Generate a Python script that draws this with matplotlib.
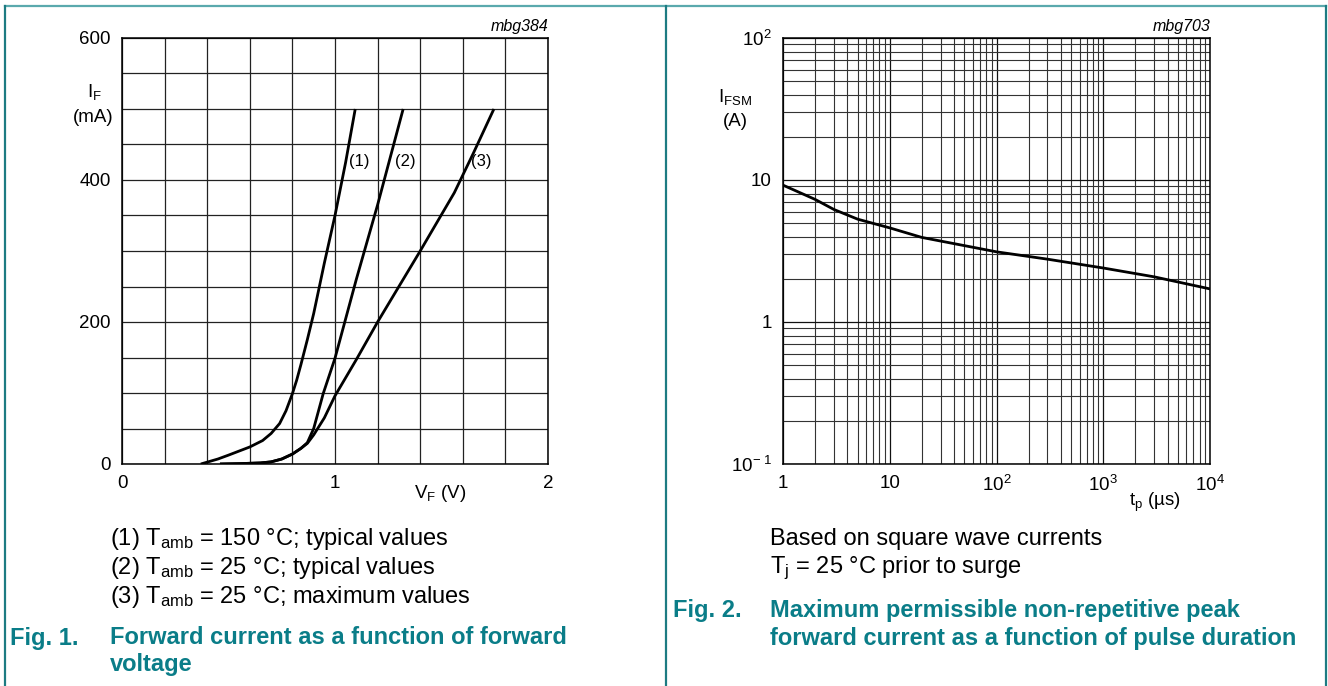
import numpy as np
import matplotlib
matplotlib.use("Agg")
from matplotlib import pyplot as plt
from matplotlib.ticker import FixedLocator, NullFormatter, LogLocator

plt.rcParams['font.family'] = ['Liberation Sans', 'DejaVu Sans']
plt.rcParams['mathtext.fontset'] = 'custom'
plt.rcParams['mathtext.rm'] = 'Liberation Sans'
plt.rcParams['mathtext.it'] = 'Liberation Sans:italic'

W, H = 1328, 686
TEAL = '#0a7d88'

# Fig. 1 data: forward voltage (V) vs forward current (mA)
vf_1 = [0.37, 0.45, 0.50, 0.60, 0.66, 0.70, 0.74, 0.77, 0.80, 0.82, 0.84, 0.87, 0.90, 0.95, 1.00, 1.05, 1.095]
if_1 = [0, 7, 12.5, 24, 33, 43, 57, 75, 99, 118, 140, 175, 212, 283, 350, 425, 500]
vf_2 = [0.46, 0.55, 0.65, 0.70, 0.75, 0.80, 0.84, 0.87, 0.90, 0.945, 1.00, 1.10, 1.20, 1.32]
if_2 = [0, 0.5, 1.5, 3, 7, 14, 22, 30, 50, 99.5, 149, 260, 365, 500]
vf_3 = [0.46, 0.55, 0.65, 0.70, 0.75, 0.80, 0.84, 0.87, 0.90, 0.95, 1.00, 1.10, 1.20, 1.40, 1.56, 1.65, 1.746]
if_3 = [0, 0.5, 1.5, 3, 7, 14, 22, 29, 41, 65, 96, 147, 200, 300, 382, 438, 500]
curve_labels = ['(1)', '(2)', '(3)']
label_x = [1.065, 1.28, 1.64]
label_y = 426

# Fig. 2 data: pulse duration (us) vs IFSM (A)
tp = [1, 2, 3, 5, 10, 20, 50, 100, 300, 1000, 3000, 10000]
ifsm = [9.2, 7.3, 6.2, 5.3, 4.6, 3.94, 3.45, 3.12, 2.77, 2.40, 2.08, 1.71]

fig = plt.figure(figsize=(W / 100, H / 100), dpi=100)


def px(x, y):
    return x / W, 1 - y / H


def ftext(x, y, s, **kw):
    fx, fy = px(x, y)
    fig.text(fx, fy, s, **kw)


def add_ax(x0, y0, x1, y1):
    return fig.add_axes([x0 / W, 1 - y1 / H, (x1 - x0) / W, (y1 - y0) / H])


# frame lines
frame = fig.add_axes([0, 0, 1, 1], zorder=-1)
frame.set_xlim(0, W)
frame.set_ylim(H, 0)
frame.axis('off')
frame.plot([5, 1326], [6, 6], color='#5aa9ad', lw=1.6)
for xv in [5, 666, 1325.5]:
    frame.plot([xv, xv], [6, H], color='#1d7b82', lw=1.6)

# ---- Fig. 1 ----
ax1 = add_ax(122, 38, 548, 464)
ax1.set_xlim(0, 2)
ax1.set_ylim(0, 600)
ax1.xaxis.set_major_locator(FixedLocator([0, 1, 2]))
ax1.xaxis.set_minor_locator(FixedLocator(np.arange(0, 2.01, 0.2)))
ax1.yaxis.set_major_locator(FixedLocator([0, 200, 400, 600]))
ax1.yaxis.set_minor_locator(FixedLocator(np.arange(0, 601, 50)))
ax1.grid(True, which='both', color='#222222', lw=0.9)
ax1.tick_params(which='both', length=0, labelsize=13.5, pad=8)
for sp in ax1.spines.values():
    sp.set_linewidth(1.1)
for v, i in [(vf_1, if_1), (vf_2, if_2), (vf_3, if_3)]:
    ax1.plot(v, i, color='black', lw=2.0, solid_capstyle='butt', solid_joinstyle='round', zorder=3)
for lx, lab in zip(label_x, curve_labels):
    ax1.text(lx, label_y, lab, fontsize=12, ha='left', va='center', zorder=4)

ftext(548, 27, 'mbg384', fontsize=11.5, style='italic', ha='right', va='center')
ftext(94, 92, r'I$_\mathregular{F}$', fontsize=13.5, ha='center', va='center')
ftext(93, 117, '(mA)', fontsize=13.5, ha='center', va='center')
ftext(440, 494, r'V$_\mathregular{F}$ (V)', fontsize=13.5, ha='center', va='center')

notes1 = [r'(1) T$_\mathregular{amb}$ = 150 °C; typical values',
          r'(2) T$_\mathregular{amb}$ = 25 °C; typical values',
          r'(3) T$_\mathregular{amb}$ = 25 °C; maximum values']
for k, s in enumerate(notes1):
    ftext(110, 539 + 29 * k, s, fontsize=17, ha='left', va='center')
ftext(10, 638, 'Fig. 1.', fontsize=17, weight='bold', color=TEAL, ha='left', va='center')
ftext(110, 638, 'Forward current as a function of forward', fontsize=17, weight='bold',
      color=TEAL, ha='left', va='center')
ftext(110, 665, 'voltage', fontsize=17, weight='bold', color=TEAL, ha='left', va='center')

# ---- Fig. 2 ----
ax2 = add_ax(783, 38, 1210, 464)
ax2.set_xscale('log')
ax2.set_yscale('log')
ax2.set_xlim(1, 1e4)
ax2.set_ylim(0.1, 100)
ax2.xaxis.set_major_locator(FixedLocator([1, 10, 100, 1000, 10000]))
ax2.xaxis.set_minor_locator(LogLocator(base=10, subs=np.arange(2, 10), numticks=20))
ax2.xaxis.set_minor_formatter(NullFormatter())
ax2.yaxis.set_major_locator(FixedLocator([0.1, 1, 10, 100]))
ax2.yaxis.set_minor_locator(LogLocator(base=10, subs=np.arange(2, 10), numticks=20))
ax2.yaxis.set_minor_formatter(NullFormatter())
ax2.set_xticklabels(['1', '10', r'10$^\mathregular{2}$', r'10$^\mathregular{3}$', r'10$^\mathregular{4}$'])
ax2.set_yticklabels([r'10$^\mathregular{-\ 1}$', '1', '10', r'10$^\mathregular{2}$'])
ax2.grid(True, which='major', color='#111111', lw=0.9)
ax2.grid(True, which='minor', color='#333333', lw=0.8)
ax2.tick_params(which='both', length=0, labelsize=13.5, pad=8)
for sp in ax2.spines.values():
    sp.set_linewidth(1.1)
ax2.plot(tp, ifsm, color='black', lw=2.0, solid_joinstyle='round', zorder=3)

ftext(1210, 27, 'mbg703', fontsize=11.5, style='italic', ha='right', va='center')
ftext(735, 97, r'I$_\mathregular{FSM}$', fontsize=13.5, ha='center', va='center')
ftext(735, 122, '(A)', fontsize=13.5, ha='center', va='center')
ftext(1155, 502, r't$_\mathregular{p}$ (µs)', fontsize=13.5, ha='center', va='center')

ftext(770, 539, 'Based on square wave currents', fontsize=17, ha='left', va='center')
ftext(770, 568, r'T$_\mathregular{j}$ = 25 °C prior to surge', fontsize=17, ha='left', va='center')
ftext(673, 610, 'Fig. 2.', fontsize=17, weight='bold', color=TEAL, ha='left', va='center')
ftext(770, 610, 'Maximum permissible non-repetitive peak', fontsize=17, weight='bold',
      color=TEAL, ha='left', va='center')
ftext(770, 638, 'forward current as a function of pulse duration', fontsize=17, weight='bold',
      color=TEAL, ha='left', va='center')

fig.savefig('out.png', dpi=100)
